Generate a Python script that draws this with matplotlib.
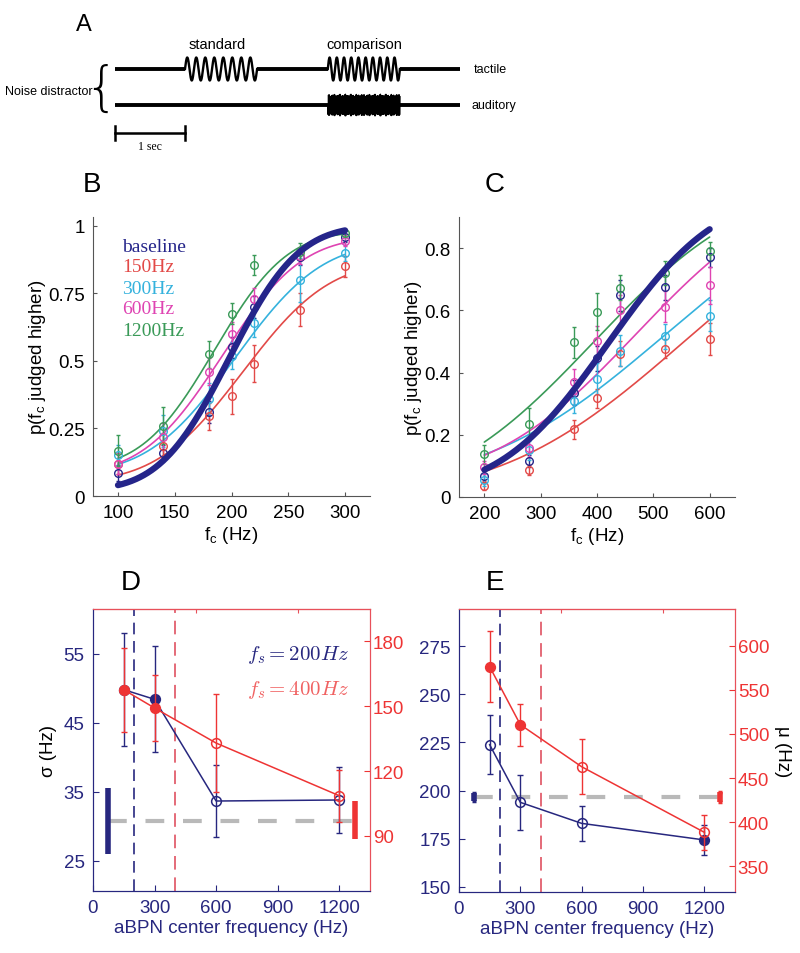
import numpy as np
import matplotlib.pyplot as plt
from math import erf

plt.rcParams['font.family'] = ['Liberation Sans', 'DejaVu Sans']
plt.rcParams['mathtext.fontset'] = 'cm'

NAVY = '#27277f'
RED = '#ee3434'
SPINE = '#555555'
COLS = {'baseline': '#25258a', '150Hz': '#e24a48', '300Hz': '#35b2dd',
        '600Hz': '#df44b2', '1200Hz': '#3a9a58'}
conds = ['baseline', '150Hz', '300Hz', '600Hz', '1200Hz']

# --- panel A: trial timeline (seconds)
trial_end = 4.93
std_on, std_off, std_cycles = 1.0, 2.03, 8
cmp_on, cmp_off, cmp_cycles = 3.04, 4.07, 10

# --- panel B: standard 200 Hz
fB = [100, 140, 180, 200, 220, 260, 300]
pB = {
    'baseline': [0.086, 0.16, 0.31, 0.55, 0.70, 0.885, 0.96],
    '150Hz':    [0.12, 0.185, 0.295, 0.37, 0.49, 0.69, 0.85],
    '300Hz':    [0.15, 0.24, 0.36, 0.52, 0.64, 0.80, 0.90],
    '600Hz':    [0.12, 0.22, 0.46, 0.60, 0.73, 0.89, 0.945],
    '1200Hz':   [0.168, 0.26, 0.525, 0.675, 0.855, 0.905, 0.975],
}
eB = {
    'baseline': [0.03, 0.03, 0.04, 0.04, 0.04, 0.03, 0.02],
    '150Hz':    [0.04, 0.05, 0.05, 0.065, 0.068, 0.062, 0.04],
    '300Hz':    [0.04, 0.06, 0.06, 0.05, 0.05, 0.08, 0.03],
    '600Hz':    [0.04, 0.05, 0.05, 0.045, 0.04, 0.03, 0.02],
    '1200Hz':   [0.058, 0.068, 0.05, 0.04, 0.037, 0.03, 0.015],
}
# fitted psychometric functions: (mu, sigma, guess, lapse)
fitB = {
    'baseline': (198, 48, 0.02, 0.0),
    '150Hz':    (210, 60, 0.05, 0.13),
    '300Hz':    (203, 60, 0.08, 0.06),
    '600Hz':    (192, 55, 0.08, 0.04),
    '1200Hz':   (185, 50, 0.10, 0.02),
}

# --- panel C: standard 400 Hz
fC = [200, 280, 360, 400, 440, 520, 600]
pC = {
    'baseline': [0.068, 0.115, 0.335, 0.446, 0.648, 0.674, 0.77],
    '150Hz':    [0.036, 0.087, 0.218, 0.317, 0.46, 0.477, 0.508],
    '300Hz':    [0.055, 0.15, 0.31, 0.38, 0.47, 0.517, 0.583],
    '600Hz':    [0.095, 0.157, 0.37, 0.50, 0.60, 0.612, 0.68],
    '1200Hz':   [0.137, 0.235, 0.497, 0.596, 0.672, 0.72, 0.79],
}
eC = {
    'baseline': [0.02, 0.02, 0.04, 0.04, 0.05, 0.04, 0.03],
    '150Hz':    [0.015, 0.015, 0.03, 0.03, 0.04, 0.03, 0.05],
    '300Hz':    [0.02, 0.03, 0.04, 0.05, 0.05, 0.04, 0.05],
    '600Hz':    [0.02, 0.03, 0.04, 0.05, 0.05, 0.05, 0.06],
    '1200Hz':   [0.03, 0.05, 0.05, 0.06, 0.04, 0.04, 0.03],
}
fitC = {
    'baseline': (420, 150, 0.02, 0.03),
    '150Hz':    (555, 255, 0.0, 0.0),
    '300Hz':    (520, 250, 0.04, 0.0),
    '600Hz':    (470, 200, 0.05, 0.0),
    '1200Hz':   (395, 210, 0.0, 0.0),
}

# --- panels D/E: fit parameters vs aBPN center frequency
abpn = [150, 300, 600, 1200]
sig200 = [49.8, 48.4, 33.65, 33.8]
sig200_err = [8.2, 7.7, 5.25, 4.75]
sig200_fill = [True, True, False, False]
sig400 = [157.5, 149.1, 132.9, 108.6]
sig400_err = [19.5, 15.3, 22.5, 12.0]
sig400_fill = [True, True, False, False]
sig_base = (30.8, 4.8, 97.3, 8.7)   # 200Hz mean, err, 400Hz mean, err

mu200 = [223.8, 193.9, 183.0, 174.4]
mu200_err = [15.3, 14.2, 9.1, 7.6]
mu200_fill = [False, False, False, True]
mu400 = [576.5, 510.6, 462.8, 388.3]
mu400_err = [40.7, 24.0, 31.3, 20.0]
mu400_fill = [True, True, False, False]
mu_base = (196.5, 2.1, 428.0, 5.7)
base_x = (75, 1275)


def psy(x, mu, sd, g, l):
    z = (np.asarray(x, float) - mu) / (sd * np.sqrt(2))
    cdf = 0.5 * (1 + np.array([erf(v) for v in z]))
    return g + (1 - g - l) * cdf


fig = plt.figure(figsize=(8, 9.54), dpi=100)
H = 954.0

# ================= A =================
axA = fig.add_axes([0, 1 - 175 / H, 1, 175 / H])
axA.set_xlim(-115 / 70, (800 - 115) / 70)
axA.set_ylim(175, 0)
axA.axis('off')
y_tac, y_aud, amp = 70, 106, 11.5

for a, b in [(0, std_on), (std_off, cmp_on), (cmp_off, trial_end)]:
    axA.plot([a, b], [y_tac, y_tac], color='k', lw=2.8, solid_capstyle='butt')
for on, off, nc in [(std_on, std_off, std_cycles), (cmp_on, cmp_off, cmp_cycles)]:
    t = np.linspace(on, off, 600)
    axA.plot(t, y_tac - amp * np.sin(2 * np.pi * nc * (t - on) / (off - on)),
             color='k', lw=1.7)
axA.plot([0, cmp_on], [y_aud, y_aud], color='k', lw=2.8, solid_capstyle='butt')
axA.plot([cmp_off, trial_end], [y_aud, y_aud], color='k', lw=2.8, solid_capstyle='butt')
t = np.linspace(cmp_on, cmp_off, 3000)
env = 9.5 + 1.5 * np.sin(2 * np.pi * 7 * (t - cmp_on)) * np.sin(2 * np.pi * 19 * (t - cmp_on))
axA.fill_between(t, y_aud - env, y_aud + env, color='k', lw=0)
axA.plot(t, y_aud + env * np.sin(2 * np.pi * 90 * (t - cmp_on)), color='k', lw=0.8)
# scale bar
axA.plot([0, 1], [134, 134], color='k', lw=1.8)
axA.plot([0, 0], [127, 141], color='k', lw=1.8)
axA.plot([1, 1], [127, 141], color='k', lw=1.8)
axA.text(0.5, 147, '1 sec', family=['Liberation Serif'], fontsize=8.5,
         ha='center', va='center')
axA.text((std_on + std_off) / 2 - 0.05, 45, 'standard', fontsize=10.5, ha='center', va='center')
axA.text((cmp_on + cmp_off) / 2, 45, 'comparison', fontsize=10.5, ha='center', va='center')
axA.text(trial_end + 0.2, y_tac, 'tactile', fontsize=9, ha='left', va='center')
axA.text(trial_end + 0.17, y_aud, 'auditory', fontsize=9, ha='left', va='center')
axA.text(-1.57, 92, 'Noise distractor', fontsize=9, ha='left', va='center')
axA.text(-0.2, 90, '{', fontsize=38, ha='center', va='center', fontweight='light',
         family=['DejaVu Sans'])
axA.text(-0.44, 25, 'A', fontsize=17, ha='center', va='center')


# ================= B / C =================
def psy_panel(rect, f, p, e, fit, xlim, ylim, xticks, yticks, yticklabels, letter, letter_xy):
    ax = fig.add_axes(rect)
    xs = np.linspace(f[0], f[-1], 300)
    for c in conds:
        lw = 4.5 if c == 'baseline' else 1.2
        ax.plot(xs, psy(xs, *fit[c]), color=COLS[c], lw=lw,
                zorder=4 if c == 'baseline' else 2, solid_capstyle='round')
        ax.errorbar(f, p[c], yerr=e[c], fmt='o', color=COLS[c], mfc='none',
                    ms=5.5, mew=1.0, elinewidth=1.0, capsize=1.5, zorder=3)
    ax.set_xlim(*xlim)
    ax.set_ylim(*ylim)
    ax.set_xticks(xticks)
    ax.set_yticks(yticks)
    ax.set_yticklabels(yticklabels)
    for s in ['top', 'right']:
        ax.spines[s].set_visible(False)
    for s in ['left', 'bottom']:
        ax.spines[s].set_color(SPINE)
    ax.tick_params(direction='in', length=3, labelsize=13.5, color=SPINE, pad=6)
    ax.set_xlabel(r'$\mathregular{f_c\ (Hz)}$', fontsize=13.5, labelpad=2)
    ax.set_ylabel(r'$\mathregular{p(f_c\ judged\ higher)}$', fontsize=13.5, labelpad=0)
    fig.text(letter_xy[0] / 800, 1 - letter_xy[1] / H, letter, fontsize=20,
             ha='center', va='center')
    return ax


axB = psy_panel([93 / 800, 1 - 497 / H, 277 / 800, 279 / H], fB, pB, eB, fitB,
                (78, 322), (0, 1.033), [100, 150, 200, 250, 300],
                [0, 0.25, 0.5, 0.75, 1], ['0', '0.25', '0.5', '0.75', '1'], 'B', (92, 185))
# legend text, placed in figure pixels (y measured from top)
for i, c in enumerate(conds):
    fig.text(122 / 800, 1 - (247 + 21 * i) / H, c, fontsize=14, color=COLS[c],
             family=['Liberation Serif'], ha='left', va='center')

axC = psy_panel([459 / 800, 1 - 498 / H, 276 / 800, 280 / H], fC, pC, eC, fitC,
                (155, 645), (0, 0.9), [200, 300, 400, 500, 600],
                [0, 0.2, 0.4, 0.6, 0.8], ['0', '0.2', '0.4', '0.6', '0.8'], 'C', (495, 185))


# ================= D / E =================
def param_panel(rect, v200, e200, fill200, v400, e400, fill400, base, ylimL, ylimR,
                yticksL, yticksR, ylabelL, ylabelR, letter, letter_xy):
    ax = fig.add_axes(rect)
    ax2 = ax.twinx()
    ax.set_xlim(0, 1350)
    ax.set_ylim(*ylimL)
    ax2.set_ylim(*ylimR)
    ax.axvline(200, color=NAVY, lw=1.2, dashes=(7, 4), zorder=1)
    ax.axvline(400, color='#e46a78', lw=1.4, dashes=(7, 4), zorder=1)
    ax.plot([base_x[0], base_x[1]], [base[0], base[0]], color='#b9b9b9', lw=3,
            dashes=(4.5, 4.5), zorder=1)
    ax.errorbar([base_x[0]], [base[0]], yerr=[base[1]], color=NAVY, elinewidth=4,
                capsize=1.5 if base[1] < 3 else 0, capthick=2.5, fmt='none')
    ax2.errorbar([base_x[1]], [base[2]], yerr=[base[3]], color=RED, elinewidth=4,
                 capsize=1.5 if base[3] < 7 else 0, capthick=2.5, fmt='none')

    for axx, vals, errs, fills, col in [(ax, v200, e200, fill200, NAVY),
                                        (ax2, v400, e400, fill400, RED)]:
        axx.errorbar(abpn, vals, yerr=errs, color=col, lw=1.1, elinewidth=1.0,
                     capsize=2, fmt='-', zorder=2)
        for x, v, fl in zip(abpn, vals, fills):
            axx.plot([x], [v], 'o', ms=7, mew=1.1, color=col,
                     mfc=col if fl else 'none', zorder=3)

    ax.set_xticks([0, 300, 600, 900, 1200])
    ax.set_yticks(yticksL)
    ax2.set_yticks(yticksR)
    ax.tick_params(axis='both', direction='in', length=4, labelsize=13.5,
                   colors=NAVY, pad=6)
    ax2.tick_params(axis='y', direction='in', length=4, labelsize=13.5,
                    colors=RED, pad=2)
    ax.spines['left'].set_color(NAVY)
    ax.spines['bottom'].set_color(NAVY)
    for s in ['top', 'right']:
        ax2.spines[s].set_color('#e8505a')
        ax.spines[s].set_color('#e8505a')
    ax2.spines['left'].set_color(NAVY)
    ax2.spines['bottom'].set_color(NAVY)
    sec = ax.secondary_xaxis('top')
    sec.set_xticks([500, 1000])
    sec.tick_params(direction='in', length=3, colors='#e8505a', labeltop=False)
    sec.spines['top'].set_color('#e8505a')
    ax.set_xlabel('aBPN center frequency (Hz)', fontsize=13.5, color=NAVY, labelpad=2)
    if ylabelL:
        ax.set_ylabel(ylabelL, fontsize=13.5, labelpad=5)
    if ylabelR:
        ax2.set_ylabel(ylabelR, fontsize=13.5, rotation=270, labelpad=16)
    fig.text(letter_xy[0] / 800, 1 - letter_xy[1] / H, letter, fontsize=20,
             ha='center', va='center')
    return ax, ax2


axD, axD2 = param_panel([93 / 800, 1 - 892 / H, 277 / 800, 282 / H],
                        sig200, sig200_err, sig200_fill, sig400, sig400_err, sig400_fill,
                        sig_base, (20.6, 61.5), (64.6, 194.8),
                        [25, 35, 45, 55], [90, 120, 150, 180], 'σ (Hz)', None,
                        'D', (131, 583))
axD.text(0.555, 0.84, r'$f_s = 200Hz$', transform=axD.transAxes, color=NAVY,
         fontsize=15, ha='left', va='center')
axD.text(0.555, 0.716, r'$f_s = 400Hz$', transform=axD.transAxes, color='#f06262',
         fontsize=15, ha='left', va='center')

axE, axE2 = param_panel([459 / 800, 1 - 893 / H, 276 / 800, 283 / H],
                        mu200, mu200_err, mu200_fill, mu400, mu400_err, mu400_fill,
                        mu_base, (147.4, 294.2), (320.5, 642),
                        [150, 175, 200, 225, 250, 275], [350, 400, 450, 500, 550, 600],
                        None, 'μ (Hz)', 'E', (495, 583))

fig.savefig('out.png', dpi=100)
